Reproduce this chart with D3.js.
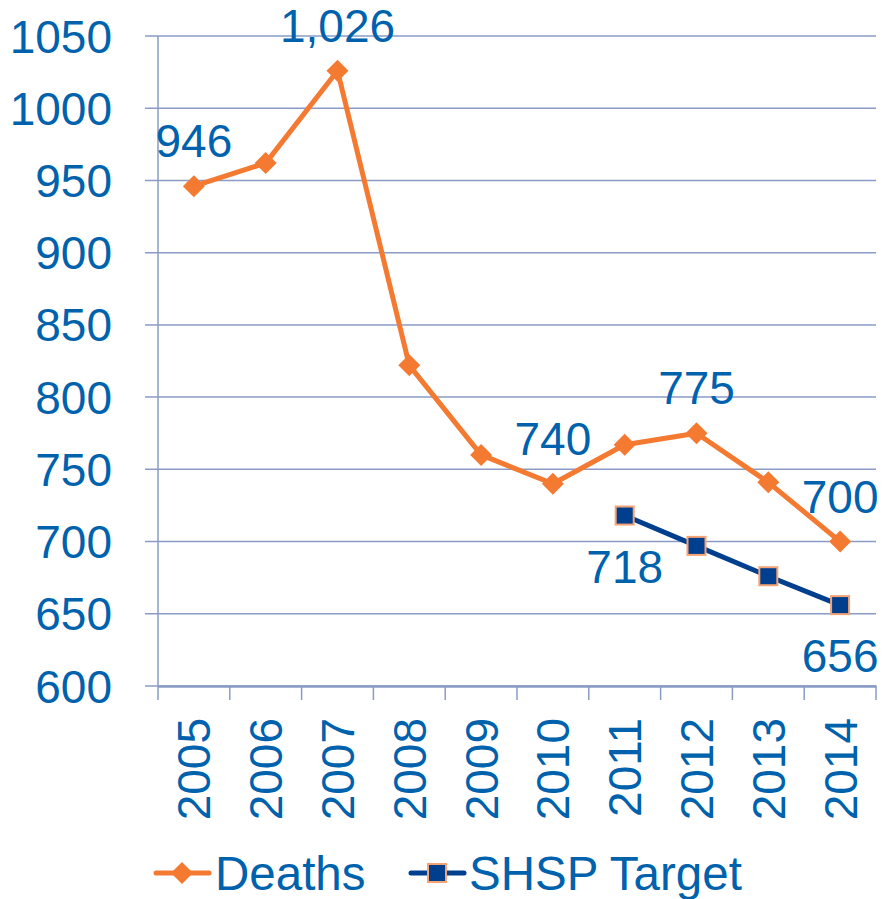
<!DOCTYPE html>
<html>
<head>
<meta charset="utf-8">
<script src="https://cdn.jsdelivr.net/npm/d3@7"></script>
<style>
  body { margin: 0; background: #fff; }
  svg text { font-family: "Liberation Sans", Arial, sans-serif; fill: #0062AC; }
</style>
</head>
<body>
<div id="chart"></div>
<script>
// Данные графика
const years = ['2005', '2006', '2007', '2008', '2009', '2010', '2011', '2012', '2013', '2014'];
const deaths = [946, 962, 1026, 822, 760, 740, 767, 775, 741, 700];
const targetYears = ['2011', '2012', '2013', '2014'];
const targets = [718, 697, 676, 656];
const yTicks = [600, 650, 700, 750, 800, 850, 900, 950, 1000, 1050];

// Подписи значений: какие точки подписаны и где (сверху / снизу)
const deathLabels = [
  { year: '2005', text: '946', pos: 'above' },
  { year: '2007', text: '1,026', pos: 'above' },
  { year: '2010', text: '740', pos: 'above' },
  { year: '2012', text: '775', pos: 'above' },
  { year: '2014', text: '700', pos: 'above' }
];
const targetLabels = [
  { year: '2011', text: '718', pos: 'below' },
  { year: '2014', text: '656', pos: 'below' }
];

const width = 882;
const height = 899;
const orange = '#F47A32';
const navy = '#003F8E';
const grid = '#8A9CC6';
const fontSize = 46;

const svg = d3.select('#chart')
  .append('svg')
  .attr('width', width)
  .attr('height', height);

// Шкалы
const xScale = d3.scaleBand()
  .domain(years)
  .range([158, 876]);
const cx = d => xScale(d) + xScale.bandwidth() / 2;

const yScale = d3.scaleLinear()
  .domain([600, 1050])
  .range([686, 36]);

// Сетка
svg.append('g')
  .selectAll('line')
  .data(yTicks)
  .enter()
  .append('line')
  .attr('x1', 145)
  .attr('x2', 876)
  .attr('y1', d => yScale(d))
  .attr('y2', d => yScale(d))
  .attr('stroke', grid)
  .attr('stroke-width', 1.5);

// Вертикальная ось
svg.append('line')
  .attr('x1', 158).attr('x2', 158)
  .attr('y1', yScale(1050)).attr('y2', yScale(600))
  .attr('stroke', grid)
  .attr('stroke-width', 1.5);

svg.append('g')
  .selectAll('text')
  .data(yTicks)
  .enter()
  .append('text')
  .attr('x', 112)
  .attr('y', d => yScale(d))
  .attr('dy', '0.36em')
  .attr('text-anchor', 'end')
  .style('font-size', fontSize + 'px')
  .text(d => d);

// Горизонтальная ось
const xAxis = d3.axisBottom(xScale).tickSize(0).tickFormat('');
const gx = svg.append('g')
  .attr('transform', `translate(0, ${yScale(600)})`)
  .call(xAxis);
gx.select('.domain').attr('stroke', grid).attr('stroke-width', 2.5);

// Засечки на границах категорий
const bounds = years.map(d => xScale(d)).concat([xScale.range()[1]]);
svg.append('g')
  .selectAll('line')
  .data(bounds)
  .enter()
  .append('line')
  .attr('x1', d => d).attr('x2', d => d)
  .attr('y1', yScale(600)).attr('y2', yScale(600) + 14)
  .attr('stroke', grid)
  .attr('stroke-width', 1.5);

// Подписи годов (повернутые)
svg.append('g')
  .selectAll('text')
  .data(years)
  .enter()
  .append('text')
  .attr('transform', d => `translate(${cx(d)}, 718) rotate(-90)`)
  .attr('dy', '0.36em')
  .attr('text-anchor', 'end')
  .style('font-size', fontSize + 'px')
  .text(d => d);

// Линии
const deathData = years.map((y, i) => ({ year: y, value: deaths[i] }));
const targetData = targetYears.map((y, i) => ({ year: y, value: targets[i] }));

const line = d3.line()
  .x(d => cx(d.year))
  .y(d => yScale(d.value));

svg.append('path')
  .datum(deathData)
  .attr('fill', 'none')
  .attr('stroke', orange)
  .attr('stroke-width', 5)
  .attr('stroke-linejoin', 'round')
  .attr('d', line);

svg.append('path')
  .datum(targetData)
  .attr('fill', 'none')
  .attr('stroke', navy)
  .attr('stroke-width', 5)
  .attr('stroke-linejoin', 'round')
  .attr('d', line);

// Маркеры: ромбы
const diamond = s => `M0,${-s}L${s},0L0,${s}L${-s},0Z`;
svg.append('g')
  .selectAll('path')
  .data(deathData)
  .enter()
  .append('path')
  .attr('transform', d => `translate(${cx(d.year)}, ${yScale(d.value)})`)
  .attr('d', diamond(11))
  .attr('fill', orange);

// Маркеры: квадраты
svg.append('g')
  .selectAll('rect')
  .data(targetData)
  .enter()
  .append('rect')
  .attr('x', d => cx(d.year) - 9)
  .attr('y', d => yScale(d.value) - 9)
  .attr('width', 18)
  .attr('height', 18)
  .attr('fill', navy)
  .attr('stroke', '#F5A274')
  .attr('stroke-width', 2);

// Подписи значений
function drawLabels(labels, data) {
  svg.append('g')
    .selectAll('text')
    .data(labels)
    .enter()
    .append('text')
    .attr('x', d => cx(d.year))
    .attr('y', d => {
      const v = data.find(p => p.year === d.year).value;
      return d.pos === 'above' ? yScale(v) - 29 : yScale(v) + 67;
    })
    .attr('text-anchor', 'middle')
    .style('font-size', fontSize + 'px')
    .text(d => d.text);
}
drawLabels(deathLabels, deathData);
drawLabels(targetLabels, targetData);

// Легенда
const legend = svg.append('g').attr('transform', 'translate(0, 873)');

legend.append('line')
  .attr('x1', 156).attr('x2', 209)
  .attr('stroke', orange).attr('stroke-width', 5).attr('stroke-linecap', 'round');
legend.append('path')
  .attr('transform', 'translate(182, 0)')
  .attr('d', diamond(11))
  .attr('fill', orange);
legend.append('text')
  .attr('x', 215)
  .attr('dy', '0.36em')
  .style('font-size', '47.5px')
  .text('Deaths');

legend.append('line')
  .attr('x1', 411).attr('x2', 464)
  .attr('stroke', navy).attr('stroke-width', 5).attr('stroke-linecap', 'round');
legend.append('rect')
  .attr('x', 428).attr('y', -9)
  .attr('width', 18).attr('height', 18)
  .attr('fill', navy)
  .attr('stroke', '#F5A274')
  .attr('stroke-width', 2);
legend.append('text')
  .attr('x', 469)
  .attr('dy', '0.36em')
  .style('font-size', '47.5px')
  .text('SHSP Target');
</script>
</body>
</html>
